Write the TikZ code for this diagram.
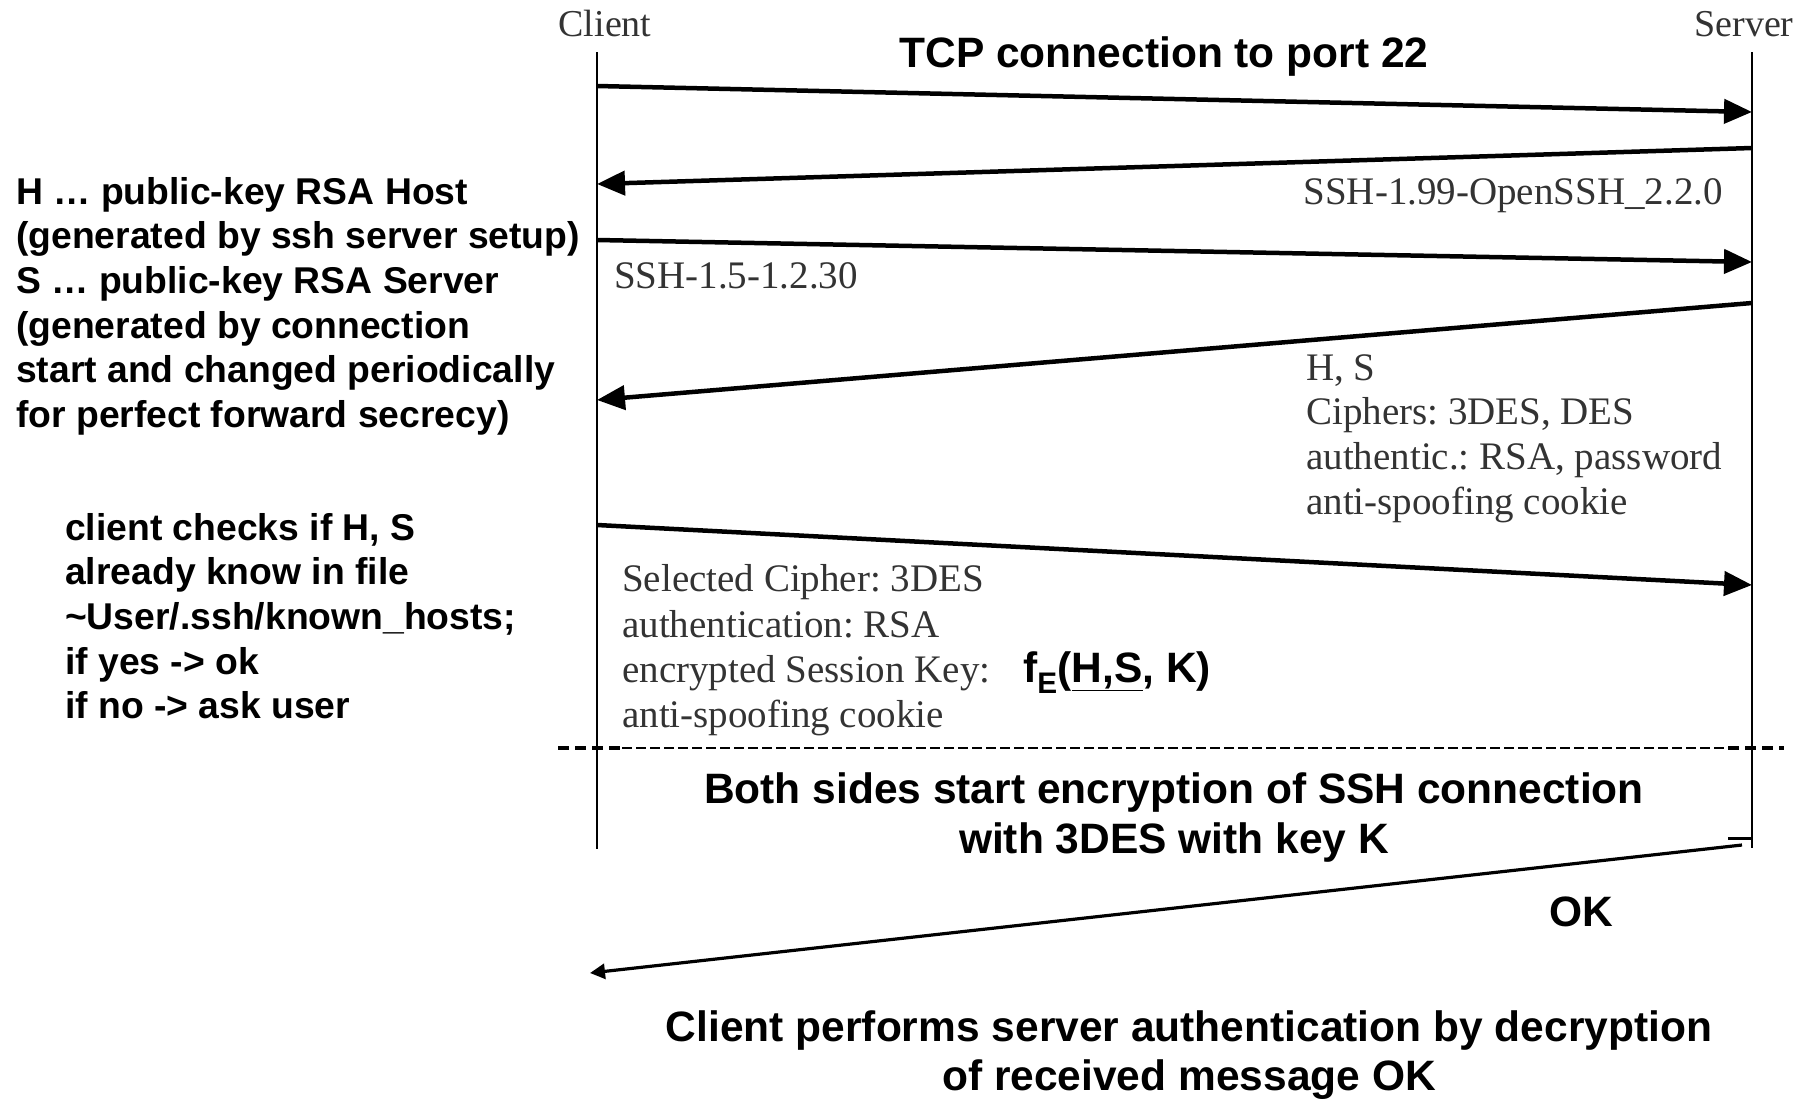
\documentclass[tikz,border=0pt]{standalone}
\usepackage{fontspec}
\setmainfont{Liberation Serif}
\setsansfont{Liberation Sans}
\usetikzlibrary{arrows.meta}
\frenchspacing
\tikzset{
  lifeline/.style={line width=2.5pt},
  msg/.style={line width=4.5pt, -{Triangle[length=28pt,width=24pt]}},
  msgthin/.style={line width=3.2pt, -{Triangle[length=15pt,width=15pt]}},
  lbl/.style={font=\frenchspacing\fontsize{39}{45}\selectfont, text=black!80, inner sep=0pt, anchor=base west},
  actor/.style={font=\fontsize{38}{45}\selectfont, text=black!80, inner sep=0pt, anchor=base},
  note/.style={font=\frenchspacing\sffamily\bfseries\fontsize{37.3}{44.7}\selectfont, inner sep=0pt, anchor=base west},
  big/.style={font=\frenchspacing\sffamily\bfseries\fontsize{42.5}{49.5}\selectfont, inner sep=0pt, anchor=base},
  dashthick/.style={line width=3.5pt, dash pattern=on 11pt off 6pt},
  dashthin/.style={line width=1.3pt, dash pattern=on 10pt off 4pt}
}
\begin{document}
\begin{tikzpicture}[x=1pt,y=-1pt]
\useasboundingbox (0,0) rectangle (1807,1100);

% actors
\node[actor] (clientlbl) at (605,36) {Client};
\node[actor] (serverlbl) at (1744,36) {Server};

% lifelines
\coordinate (ctop) at (597,52);
\coordinate (cbot) at (597,849);
\coordinate (stop) at (1752,52);
\coordinate (sbot) at (1752,848);
\draw[lifeline] (ctop) -- (cbot);
\draw[lifeline] (stop) -- (sbot);

% title
\node[big] (title) at (1164,67) {TCP connection to port 22};

% messages
\coordinate (m1a) at (597,86);   \coordinate (m1b) at (1752,112);
\coordinate (m2a) at (1752,148); \coordinate (m2b) at (597,184);
\coordinate (m3a) at (597,240);  \coordinate (m3b) at (1752,262);
\coordinate (m4a) at (1752,303); \coordinate (m4b) at (597,400);
\coordinate (m5a) at (597,525);  \coordinate (m5b) at (1752,585);
\coordinate (m6a) at (1742,845); \coordinate (m6b) at (590,973);
\draw[msg] (m1a) -- (m1b);
\draw[msg] (m2a) -- (m2b);
\draw[msg] (m3a) -- (m3b);
\draw[msg] (m4a) -- (m4b);
\draw[msg] (m5a) -- (m5b);
\draw[msgthin] (m6a) -- (m6b);

% tick at server bottom
\coordinate (tk1) at (1728,838);
\coordinate (tk2) at (1752,838);
\draw[line width=3pt] (tk1) -- (tk2);

% message labels
\node[lbl, anchor=base east] (v1) at (1723,204) {SSH-1.99-OpenSSH\_2.2.0};
\node[lbl] (v2) at (614,288) {SSH-1.5-1.2.30};
\node[lbl] (h1) at (1306,380) {H, S};
\node[lbl] (h2) at (1306,424) {Ciphers: 3DES, DES};
\node[lbl] (h3) at (1306,469) {authentic.: RSA, password};
\node[lbl] (h4) at (1306,514) {anti-spoofing cookie};
\node[lbl] (s1) at (622,591) {Selected Cipher: 3DES};
\node[lbl] (s2) at (622,637) {authentication: RSA};
\node[lbl] (s3) at (622,682) {encrypted Session Key:};
\node[lbl] (s4) at (622,727) {anti-spoofing cookie};
\node[big, anchor=base west] (fe) at (1023,682) {f\textsubscript{E}(\underline{H,S}, K)};

% dashed separator
\coordinate (d1) at (558,748);
\coordinate (d2) at (622,748);
\coordinate (d3) at (1728,748);
\coordinate (d4) at (1784,748);
\draw[dashthick] (d1) -- (d2);
\draw[dashthin] (d2) -- (d3);
\draw[dashthick] (d3) -- (d4);

% encryption text
\node[big] (both1) at (1174,803) {Both sides start encryption of SSH connection};
\node[big] (both2) at (1174,853) {with 3DES with key K};

\node[big] (ok) at (1581,926) {OK};

\node[big] (cp1) at (1189,1041) {Client performs server authentication by decryption};
\node[big] (cp2) at (1189,1090) {of received message OK};

% left notes
\node[note] (n1) at (16,204) {H \dots{} public-key RSA Host};
\node[note] (n2) at (16,248.7) {(generated by ssh server setup)};
\node[note] (n3) at (16,293.4) {S \dots{} public-key RSA Server};
\node[note] (n4) at (16,338.1) {(generated by connection};
\node[note] (n5) at (16,382.8) {start and changed periodically};
\node[note] (n6) at (16,427.5) {for perfect forward secrecy)};

\node[note] (k1) at (65,540) {client checks if H, S};
\node[note] (k2) at (65,584.7) {already know in file};
\node[note] (k3) at (65,629.4) {\textasciitilde User/.ssh/known\_hosts;};
\node[note] (k4) at (65,674.1) {if yes -> ok};
\node[note] (k5) at (65,718.8) {if no -> ask user};
\end{tikzpicture}
\end{document}
